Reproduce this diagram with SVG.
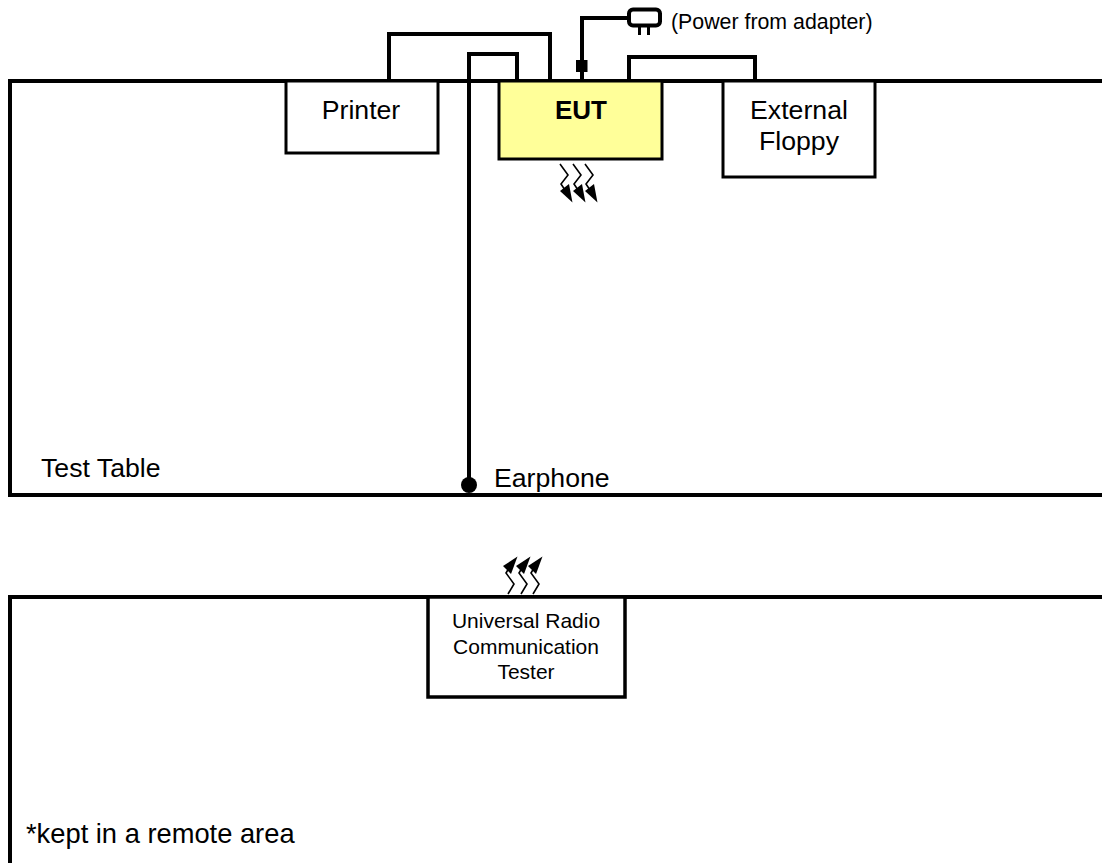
<svg xmlns="http://www.w3.org/2000/svg" width="1102" height="863" viewBox="0 0 1102 863">
<style>
text{font-family:"Liberation Sans",Arial,sans-serif;fill:#000}
.box{fill:#fff;stroke:#000;stroke-width:3}
.w{fill:none;stroke:#000;stroke-width:4}
.z{fill:none;stroke:#000;stroke-width:1.6}
.m{font-size:26.67px;text-anchor:middle}
.s{font-size:21px;text-anchor:middle}
</style>
<defs>
<g id="down"><path class="z" d="M0 0L8 11L1 20L5 26"/><path d="M12.500 38.500L0 27L9 20Z" fill="#000"/></g>
<g id="up"><path class="z" d="M3 37L9 27L1 16L4 11"/><path d="M12.500 -0.500L-2 9L6 17Z" fill="#000"/></g>
</defs>
<g id="test-table"><path d="M1102 81H10V495H1102" fill="none" stroke="#000" stroke-width="4"/><text x="41" y="477" font-size="26.67">Test Table</text></g>
<g id="remote-area"><path d="M1102 597H10V863" fill="none" stroke="#000" stroke-width="4"/><text x="26" y="843" font-size="27.300">*kept in a remote area</text></g>
<g id="connectors">
<path class="w" d="M389 81V34H550V81"/>
<path class="w" d="M469 487V54H517V81"/>
<path class="w" d="M582 81V18H628"/>
<path class="w" d="M629 81V57H755V81"/>
<rect x="576" y="60" width="11.500" height="12" fill="#000"/>
<circle cx="469" cy="485" r="8" fill="#000"/>
</g>
<g id="printer"><rect class="box" x="286" y="81" width="152" height="72"/><text class="m" x="361" y="119">Printer</text></g>
<g id="eut"><rect x="499" y="81" width="163" height="78" fill="#ffff99" stroke="#000" stroke-width="3"/><text class="m" x="581" y="119" font-weight="bold" style="font-size:26px">EUT</text></g>
<g id="external-floppy"><rect class="box" x="723" y="81" width="152" height="96"/><text class="m" x="799" y="119">External</text><text class="m" x="799" y="150">Floppy</text></g>
<g id="tester"><rect class="box" x="428" y="597" width="197" height="100" style="stroke-width:3.500"/><text class="s" x="526" y="628">Universal Radio</text><text class="s" x="526" y="654">Communication</text><text class="s" x="526" y="679">Tester</text></g>
<g id="plug"><rect x="629" y="9.500" width="31" height="16" rx="4" fill="#fff" stroke="#000" stroke-width="4"/><path d="M639.500 26V35M648.500 26V35" stroke="#000" stroke-width="3"/><text x="671" y="29" font-size="21.330">(Power from adapter)</text></g>
<g id="signal-down"><use href="#down" x="560" y="164"/><use href="#down" x="573" y="164"/><use href="#down" x="585" y="164"/></g>
<g id="signal-up"><use href="#up" x="505" y="557"/><use href="#up" x="518" y="557"/><use href="#up" x="530" y="557"/></g>
<g id="earphone"><text x="494" y="487" font-size="26.67">Earphone</text></g>
</svg>
